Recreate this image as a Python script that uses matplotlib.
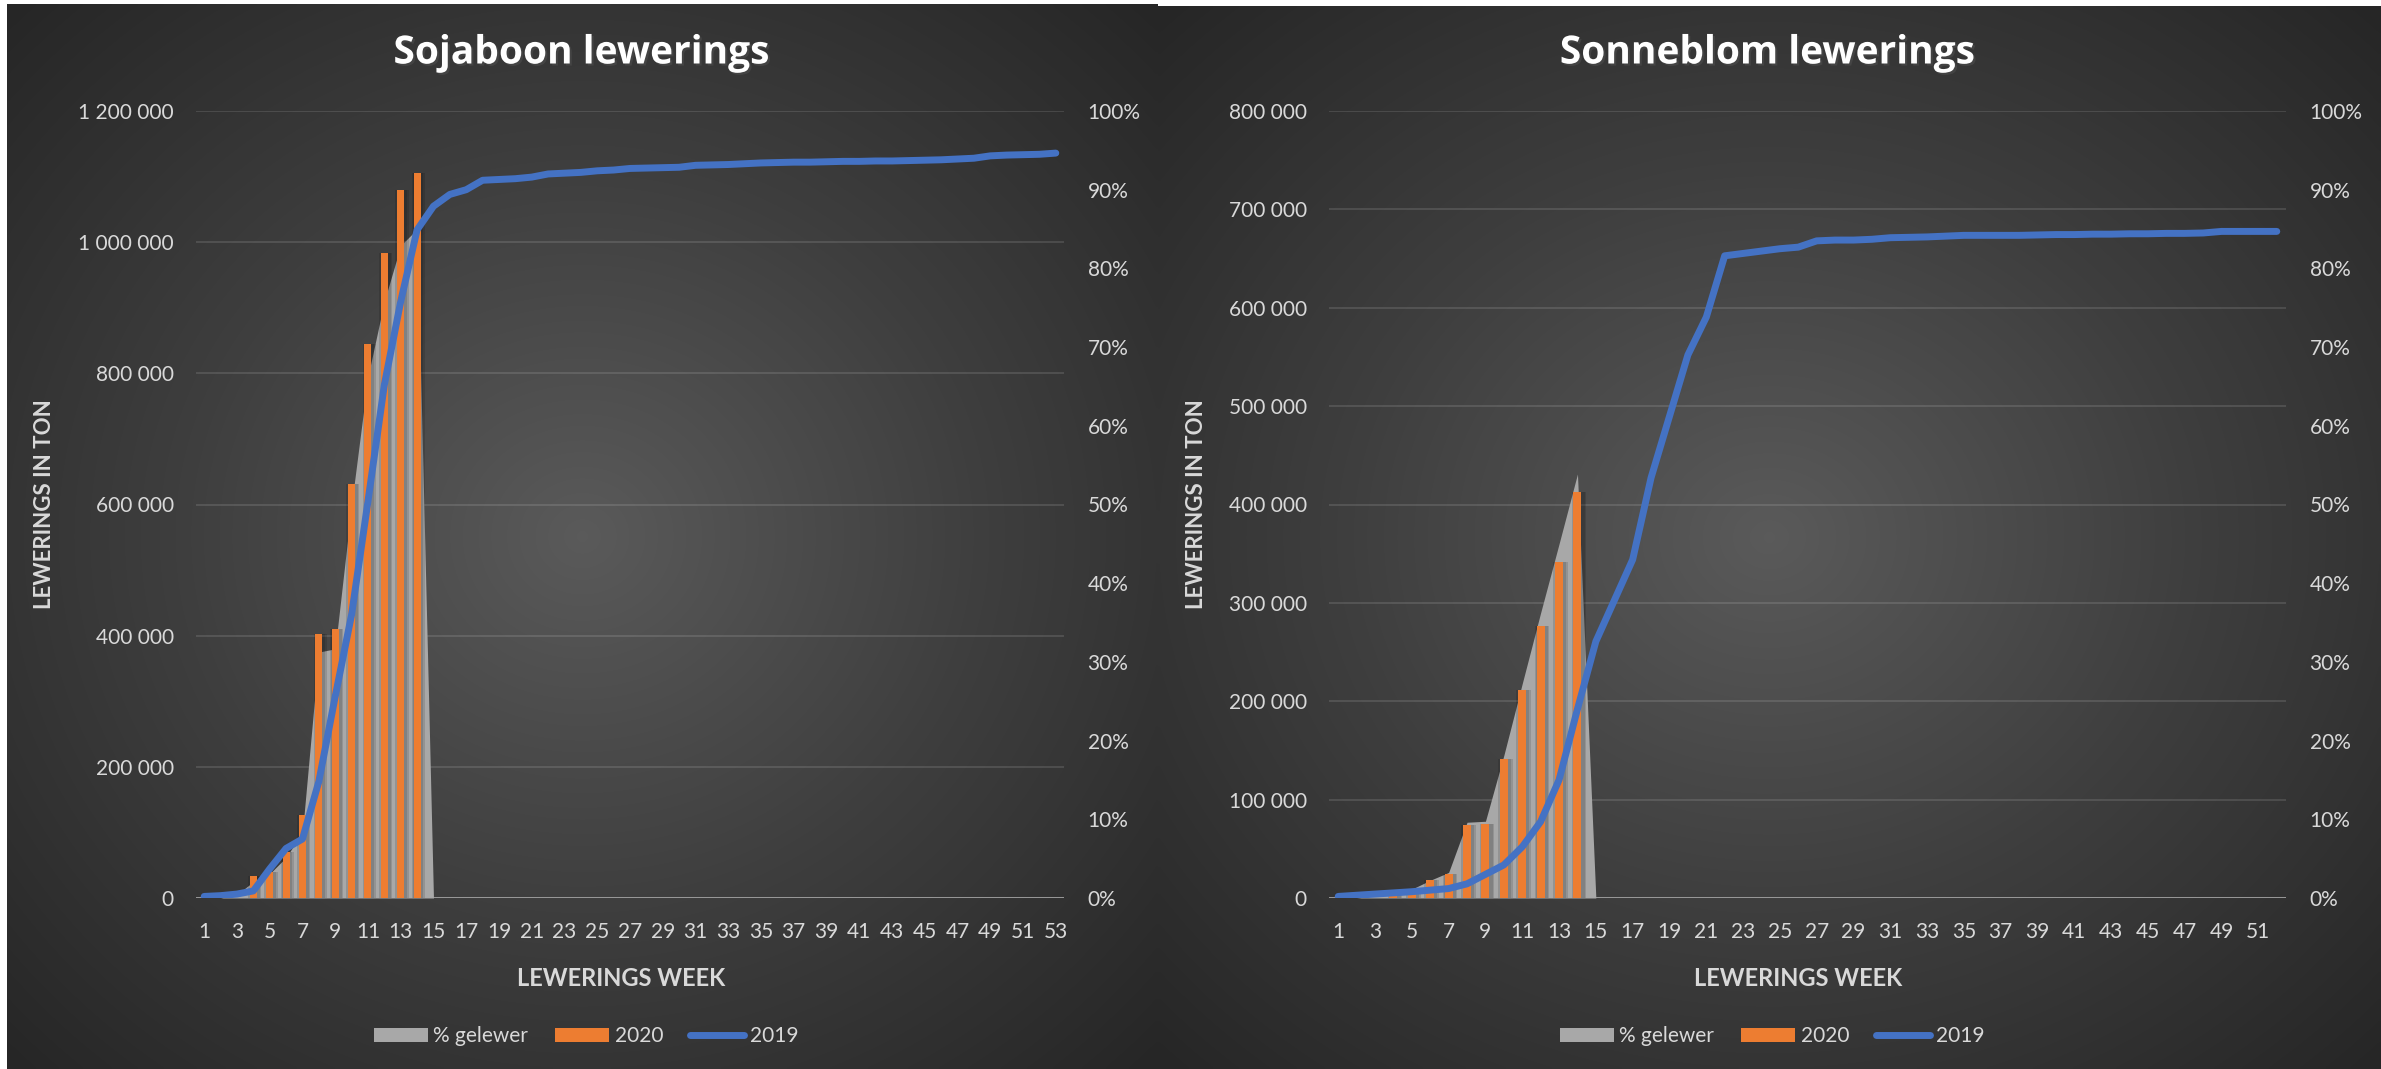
import matplotlib
matplotlib.use("Agg")
import matplotlib.pyplot as plt
import matplotlib.patheffects as pe
from matplotlib.colors import LinearSegmentedColormap
from matplotlib.patches import Patch
from matplotlib.lines import Line2D
from matplotlib.ticker import FuncFormatter, PercentFormatter
import numpy as np

plt.rcParams["font.family"] = ["Lato", "DejaVu Sans"]

# --- data ---
soja_weeks = np.arange(1, 54)
soja_gelewer = [0, 0, 5000, 25000, 37000, 62000, 100000, 375000, 380000, 600000,
                795000, 910000, 995000, 1020000, 0]
soja_2020 = [0, 0, 0, 34000, 40000, 70000, 126000, 402000, 410000, 632000,
             845000, 984000, 1079000, 1106000]
soja_2019 = [0.2, 0.3, 0.5, 0.9, 3.7, 6.3, 7.5, 14.8, 25.6, 36.0,
             50.4, 65.2, 75.8, 84.9, 87.9, 89.4, 90.0, 91.2, 91.3, 91.4,
             91.6, 92.0, 92.1, 92.2, 92.4, 92.5, 92.7, 92.75, 92.8, 92.85,
             93.1, 93.15, 93.2, 93.3, 93.4, 93.45, 93.5, 93.5, 93.55, 93.6,
             93.6, 93.65, 93.65, 93.7, 93.75, 93.8, 93.9, 94.0, 94.3, 94.4,
             94.45, 94.5, 94.65]

sonn_weeks = np.arange(1, 53)
sonn_gelewer = [0, 0, 2000, 6000, 9000, 18000, 26000, 77000, 78000, 145000,
                218000, 290000, 360000, 431000, 0]
sonn_2020 = [0, 0, 0, 7800, 9500, 18000, 24800, 73800, 74800, 141000,
             211000, 277000, 342000, 413000]
sonn_2019 = [0.2, 0.35, 0.5, 0.65, 0.8, 1.0, 1.2, 1.8, 3.0, 4.2,
             6.5, 9.7, 15.0, 24.0, 32.6, 37.8, 43.0, 53.4, 61.2, 69.0,
             73.8, 81.6, 81.9, 82.2, 82.5, 82.7, 83.5, 83.6, 83.6, 83.7,
             83.9, 83.95, 84.0, 84.1, 84.2, 84.2, 84.2, 84.2, 84.25, 84.3,
             84.3, 84.35, 84.35, 84.4, 84.4, 84.45, 84.45, 84.5, 84.7, 84.7,
             84.7, 84.7]

W, H = 2381, 1069
TXT = "#d9d9d9"
GREY = "#a8a8a8"
ORANGE = "#ED7D31"
BLUE = "#4472C4"

fig = plt.figure(figsize=(W / 100, H / 100), dpi=100, facecolor="white")

bg_cmap = LinearSegmentedColormap.from_list("bg", ["#5a5a5a", "#3e3e3e", "#262626"])


def panel_bg(x0, x1, top):
    bg = fig.add_axes([x0 / W, 0, (x1 - x0) / W, (H - top) / H], zorder=-10)
    yy, xx = np.mgrid[-1:1:300j, -1:1:300j]
    r = np.sqrt(xx ** 2 + yy ** 2) / np.sqrt(2)
    bg.imshow(r, cmap=bg_cmap, aspect="auto", interpolation="bilinear")
    bg.axis("off")


def thousands(v, pos):
    return f"{int(v):,}".replace(",", " ")


def draw_panel(left, right, ylab_x, title, title_x, weeks, gelewer, y2020, y2019,
               ymax, ystep, legend_x):
    ax = fig.add_axes([left / W, (H - 898) / H, (right - left) / W, (898 - 111) / H])
    ax.set_facecolor("none")
    ax.set_xlim(0.5, len(weeks) + 0.5)
    ax.set_ylim(0, ymax)
    ax.set_yticks(np.arange(0, ymax + 1, ystep))
    ax.yaxis.set_major_formatter(FuncFormatter(thousands))
    ax.set_xticks(np.arange(1, len(weeks) + 1, 2))
    ax.grid(axis="y", color="white", alpha=0.13, lw=1.3)
    ax.set_axisbelow(True)
    for s in ax.spines.values():
        s.set_visible(False)
    ax.axhline(0, color="#a0a0a0", lw=2, zorder=1.5)
    ax.tick_params(length=0, colors=TXT, labelsize=15)
    ax.tick_params(axis="x", pad=17)
    ax.tick_params(axis="y", pad=16)

    gw = np.arange(1, len(gelewer) + 1)
    ax.fill_between(gw, gelewer, color=GREY, lw=0, zorder=2)
    bw = np.arange(1, len(y2020) + 1)
    for a, w in [(0.12, 0.8), (0.12, 0.62)]:
        ax.bar(bw + 0.08, y2020, width=w, color="black", alpha=a, lw=0, zorder=2.2)
    ax.bar(bw, y2020, width=0.43, color=ORANGE, lw=0, zorder=3)

    ax.set_xlabel("LEWERINGS WEEK", color=TXT, fontsize=17, fontweight="bold")
    ax.xaxis.set_label_coords(0.49, -(967 - 898) / 787)
    ax.set_ylabel("LEWERINGS IN TON", color=TXT, fontsize=16, fontweight="bold")
    ax.yaxis.set_label_coords((ylab_x - left) / (right - left), 0.5)

    ax2 = ax.twinx()
    ax2.set_ylim(0, 100)
    ax2.set_yticks(np.arange(0, 101, 10))
    ax2.yaxis.set_major_formatter(PercentFormatter(decimals=0))
    for s in ax2.spines.values():
        s.set_visible(False)
    ax2.tick_params(length=0, colors=TXT, labelsize=15, pad=17)
    ax2.plot(weeks, y2019, color=BLUE, lw=5, solid_joinstyle="round",
             solid_capstyle="round", zorder=5)

    fig.text(title_x / W, 1 - 53 / H, title, ha="center", va="center",
             color="white", fontsize=28, fontweight="bold", family="Open Sans",
             path_effects=[pe.SimplePatchShadow(offset=(1.5, -1.5), alpha=0.6),
                           pe.Normal()])

    handles = [Patch(color=GREY, lw=0), Patch(color=ORANGE, lw=0),
               Line2D([], [], color=BLUE, lw=5, solid_capstyle="round")]
    fig.legend(handles, ["% gelewer", "2020", "2019"], loc="center",
               bbox_to_anchor=(legend_x / W, 1 - 1036 / H),
               ncol=3, frameon=False, fontsize=15, labelcolor=TXT,
               handlelength=2.6, handleheight=0.65, handletextpad=0.25,
               columnspacing=1.3)


panel_bg(7, 1158, 4)
panel_bg(1158, W, 6)

draw_panel(196, 1064, 55, "Sojaboon lewerings", 581, soja_weeks, soja_gelewer,
           soja_2020, soja_2019, 1200000, 200000, 586)
draw_panel(1329, 2286, 1207, "Sonneblom lewerings", 1767, sonn_weeks, sonn_gelewer,
           sonn_2020, sonn_2019, 800000, 100000, 1772)

fig.savefig("out.png", dpi=100, facecolor=fig.get_facecolor())
